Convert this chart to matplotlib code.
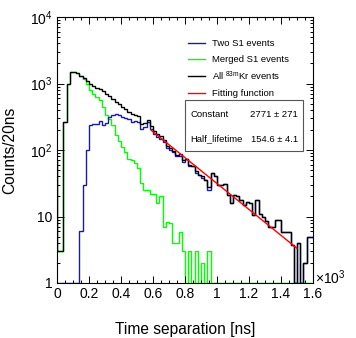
import numpy as np
import matplotlib
matplotlib.use("Agg")
import matplotlib.pyplot as plt
from matplotlib.ticker import MultipleLocator, LogLocator, FuncFormatter, NullFormatter
from matplotlib.patches import Rectangle

plt.rcParams['font.family'] = ['Liberation Sans', 'DejaVu Sans']
plt.rcParams['mathtext.fontset'] = 'custom'
plt.rcParams['mathtext.rm'] = 'Liberation Sans'
plt.rcParams['mathtext.it'] = 'Liberation Sans:italic'

# bins of 20 ns, in units of 10^3 ns, first bin starts at -0.02
bin_lo, bin_hi, bin_w = -0.02, 1.60, 0.02

# All 83mKr events
all_counts = [70, 3, 3, 265, 1000, 1500, 1500, 1420, 1300, 1200,
              1100, 1000, 930, 870, 820, 760, 700, 640, 580, 530,
              490, 450, 410, 375, 345, 340, 320, 250, 255, 285,
              230, 195, 175, 165, 140, 115, 108, 96, 85, 88,
              70, 72, 60, 58, 48, 42, 40, 36, 28, 45,
              40, 30, 30, 31, 21, 16, 21, 20, 18, 15,
              16.5, 16, 10.5, 17.7, 11, 9.9, 8.5, 7, 7, 8.8,
              8.8, 5.9, 5.9, 5.9, 3.7, 0, 4, 0, 2, 5,
              5]

# Two S1 events
two_s1 = [0, 0, 0, 0, 0, 0, 0, 0, 6, 30,
          100, 238, 245, 250, 275, 238, 255, 316, 337, 345,
          337, 316, 300, 290, 265, 275, 265, 205, 225, 260,
          205, 173, 159, 145, 133, 107, 100, 92, 81, 82,
          67, 72, 57, 58, 45, 42, 38, 36, 25, 45,
          40, 30, 30, 31, 21, 16, 21, 20, 18, 15,
          16.5, 16, 10.5, 17.7, 11, 9.9, 8.5, 7, 7, 8.8,
          8.8, 5.9, 5.9, 5.9, 3.7, 0, 4, 0, 2, 5,
          5]

# Merged S1 events
merged_s1 = [70, 3, 3, 265, 1000, 1500, 1500, 1420, 1295, 1170,
             1000, 800, 700, 630, 560, 450, 340, 290, 238, 170,
             135, 112, 94, 72, 70, 63, 53, 32, 25, 25,
             22, 22, 16, 20, 7, 8.4, 8, 4, 4, 5.9,
             3, 0, 3, 0, 3, 0, 2, 0, 3, 0,
             0, 0, 0, 0, 0, 0, 0, 0, 0, 0,
             0, 0, 0, 0, 0, 0, 0, 0, 0, 0,
             0, 0, 0, 0, 0, 0, 0, 0, 0, 0,
             0]

# fit result
fit_const, fit_const_err = 2771, 271
fit_half, fit_half_err = 154.6, 4.1
fit_range = (0.59, 1.50)

edges = np.linspace(bin_lo, bin_hi, len(all_counts) + 1)

fig = plt.figure(figsize=(3.56, 3.38), dpi=100)
ax = fig.add_axes([57 / 356, 55 / 338, 256 / 356, 266 / 338])

# zero bins are drawn on the frame bottom like ROOT does
ax.stairs(np.clip(merged_s1, 1, None), edges, baseline=None, color='#00ff00', lw=1.0)
ax.stairs(np.clip(two_s1, 1, None), edges, baseline=None, color='#1a1aa8', lw=1.0)
ax.stairs(np.clip(all_counts, 1, None), edges, baseline=None, color='black', lw=1.0)

t = np.linspace(fit_range[0], fit_range[1], 200)
ax.plot(t, fit_const * 2 ** (-t * 1000 / fit_half), color='red', lw=1.0)

ax.set_xlim(0, 1.6)
ax.set_yscale('log')
ax.set_ylim(1, 1e4)

ax.xaxis.set_major_locator(MultipleLocator(0.2))
ax.xaxis.set_minor_locator(MultipleLocator(0.05))
ax.xaxis.set_major_formatter(FuncFormatter(lambda v, p: f'{v:g}'))
ax.yaxis.set_major_locator(LogLocator(base=10, numticks=10))
ax.yaxis.set_minor_locator(LogLocator(base=10, subs=np.arange(2, 10), numticks=10))
ax.yaxis.set_minor_formatter(NullFormatter())


def ylab(v, p):
    e = int(round(np.log10(v)))
    if e == 0:
        return '1'
    if e == 1:
        return '10'
    return '$10^{%d}$' % e


ax.yaxis.set_major_formatter(FuncFormatter(ylab))
ax.tick_params(which='both', direction='in', top=True, right=True, labelsize=10, width=0.7)
ax.tick_params(which='major', length=5, pad=3)
ax.tick_params(which='minor', length=2.5)
for s in ax.spines.values():
    s.set_linewidth(0.8)

ax.set_xlabel('Time separation [ns]', fontsize=11.2)
ax.set_ylabel('Counts/20ns', fontsize=11.2)
ax.xaxis.set_label_coords(0.5, -0.147)
ax.yaxis.set_label_coords(-0.156, 0.5)
ax.text(1.008, 0.02, '×10$^{3}$', transform=ax.transAxes, fontsize=10, ha='left', va='center')

# legend
leg_items = [('Two S1 events', '#1a1aa8'), ('Merged S1 events', '#00ff00'),
             (r'All $^{\mathrm{83m}}$Kr events', 'black'), ('Fitting function', 'red')]
leg_y = [0.902, 0.842, 0.778, 0.714]
for (lab, col), yy in zip(leg_items, leg_y):
    ax.plot([0.512, 0.578], [yy, yy], color=col, lw=1.0, transform=ax.transAxes)
    ax.text(0.605, yy, lab, transform=ax.transAxes, fontsize=6.8, va='center', ha='left')

# stats box
ax.add_patch(Rectangle((0.5, 0.496), 0.461, 0.192, transform=ax.transAxes,
                       fill=True, facecolor='white', edgecolor='#555555', lw=0.8, zorder=3))
ax.text(0.52, 0.635, 'Constant', transform=ax.transAxes, fontsize=6.8, va='center', zorder=4)
ax.text(0.94, 0.635, f'{fit_const} ± {fit_const_err}', transform=ax.transAxes,
        fontsize=6.8, va='center', ha='right', zorder=4)
ax.text(0.52, 0.541, 'Half_lifetime', transform=ax.transAxes, fontsize=6.8, va='center', zorder=4)
ax.text(0.94, 0.541, f'{fit_half} ± {fit_half_err}', transform=ax.transAxes,
        fontsize=6.8, va='center', ha='right', zorder=4)

fig.savefig('out.png', dpi=100)
